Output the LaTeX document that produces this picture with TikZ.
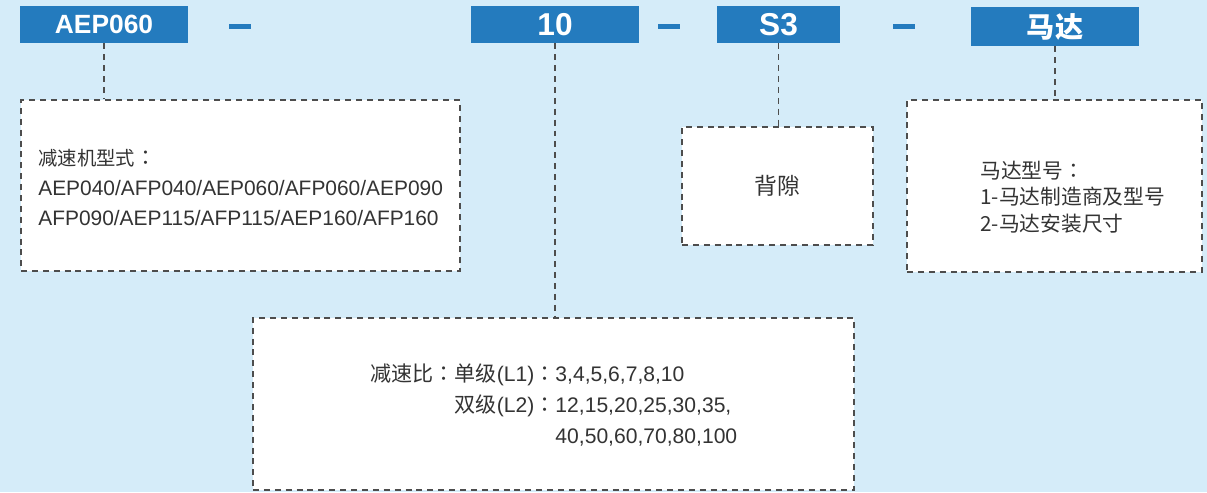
\documentclass[tikz,border=0pt]{standalone}
\usepackage{fontspec}
\setmainfont{Liberation Sans}
\newfontfamily\cjk{Noto Sans CJK SC}
\newfontfamily\cjktc{Noto Sans CJK TC}
\usetikzlibrary{positioning,calc}
\definecolor{bgblue}{HTML}{D5ECF9}
\definecolor{headblue}{HTML}{247BBE}
\definecolor{dashgray}{HTML}{4D4D4D}
\definecolor{textgray}{HTML}{333333}
\newcommand{\zh}[1]{{\cjk #1}}
\newcommand{\zcolon}{{\cjktc ：}}

\begin{document}
\begin{tikzpicture}[
  head/.style={fill=headblue,text=white,inner sep=0pt,minimum height=0.74cm,
    font=\bfseries\fontsize{18}{20}\selectfont},
  sep/.style={fill=headblue,inner sep=0pt,minimum width=0.44cm,minimum height=0.1cm},
  infobox/.style={draw=dashgray,fill=white,text=textgray,line width=1.1pt,
    dash pattern=on 3.4pt off 2.8pt,inner sep=0pt},
  boxtext/.style={anchor=west,align=left,inner sep=0pt,text=textgray},
  link/.style={draw=dashgray,line width=1.1pt,dash pattern=on 3.4pt off 2.8pt}]
\useasboundingbox (0,0) rectangle (24.14,-9.84);
\fill[bgblue] (0,0) rectangle (24.14,-9.84);

\node[head,minimum width=3.36cm,font=\bfseries\fontsize{15}{17}\selectfont] (model) at (2.08,-0.49) {AEP060};
\node[sep] (dasha) at (4.80,-0.52) {};
\node[head,minimum width=3.36cm] (ratio) at (11.10,-0.49) {10};
\node[sep] (dashb) at (13.37,-0.52) {};
\node[head,minimum width=2.46cm] (backlash) at (15.57,-0.49) {S3};
\node[sep] (dashc) at (18.08,-0.52) {};
\node[head,minimum width=3.36cm,minimum height=0.78cm,
  font=\cjk\bfseries\fontsize{16}{18}\selectfont] (motor) at (21.10,-0.53) {马达};

\node[infobox,minimum width=8.78cm,minimum height=3.42cm] (modelbox) at (4.81,-3.71) {};
\node[boxtext,font=\fontsize{11.9}{17}\selectfont] (modeltxt) at (0.76,-3.75)
  {\zh{\fontsize{11}{17}\selectfont 减速机型式}\zcolon\\
   AEP040/AFP040/AEP060/AFP060/AEP090\\
   AFP090/AEP115/AFP115/AEP160/AFP160};

\node[infobox,minimum width=3.82cm,minimum height=2.36cm,
  font=\cjk\fontsize{13}{15}\selectfont] (backlashbox) at (15.55,-3.72) {背隙};

\node[infobox,minimum width=5.90cm,minimum height=3.44cm] (motorbox) at (21.09,-3.72) {};
\node[boxtext,font=\cjk\fontsize{11.8}{15}\selectfont] (motortxt) at (19.60,-3.94)
  {马达型号\zcolon\\1-马达制造商及型号\\2-马达安装尺寸};

\node[infobox,minimum width=12.02cm,minimum height=3.44cm] (ratiobox) at (11.07,-8.08) {};
\node[boxtext,font=\fontsize{12}{17.6}\selectfont] (ratiotxt) at (7.40,-8.12)
  {\begin{tabular}{@{}l@{}l@{}l@{}}
   \zh{减速比}\zcolon&\zh{单级}(L1)\zcolon&3,4,5,6,7,8,10\\
   &\zh{双级}(L2)\zcolon&12,15,20,25,30,35,\\
   &&40,50,60,70,80,100
   \end{tabular}};

\draw[link] (model.south) -- (model.south |- modelbox.north);
\draw[link] (ratio.south) -- (ratio.south |- ratiobox.north);
\draw[link] (backlash.south) -- (backlash.south |- backlashbox.north);
\draw[link] (motor.south) -- (motor.south |- motorbox.north);
\end{tikzpicture}
\end{document}
